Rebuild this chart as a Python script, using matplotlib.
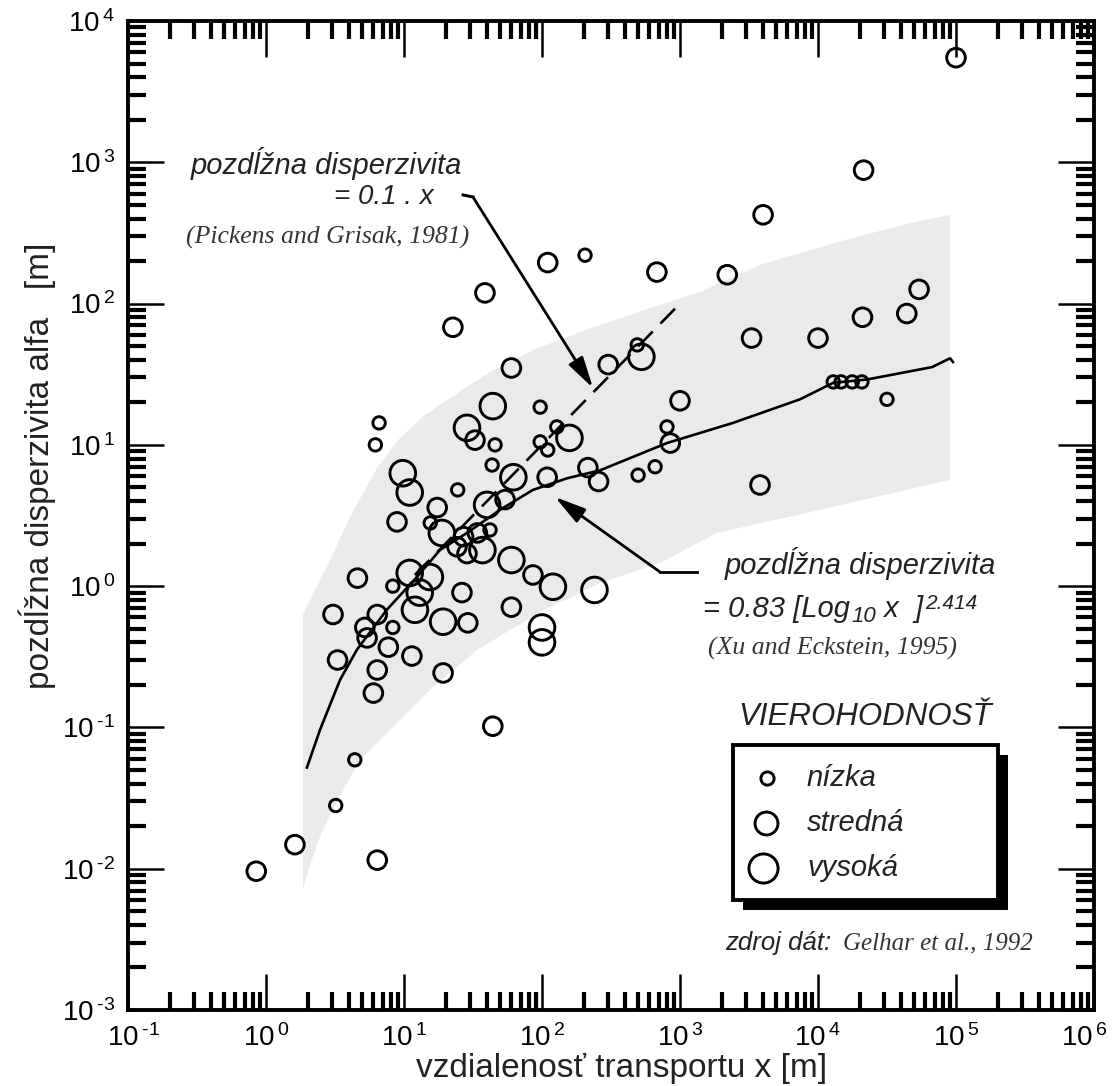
import numpy as np
import matplotlib
matplotlib.use('Agg')
import matplotlib.pyplot as plt
from matplotlib.ticker import LogLocator, FuncFormatter, NullFormatter
from matplotlib.patches import Rectangle
from matplotlib.transforms import ScaledTranslation

plt.rcParams['font.family'] = ['Liberation Sans', 'DejaVu Sans']
plt.rcParams['mathtext.fontset'] = 'custom'
plt.rcParams['mathtext.rm'] = 'Liberation Sans'
plt.rcParams['mathtext.it'] = 'Liberation Sans:italic'
plt.rcParams['mathtext.bf'] = 'Liberation Sans:bold'
plt.rcParams['mathtext.sf'] = 'Liberation Sans'
plt.rcParams['lines.scale_dashes'] = False

# ---------------- data ----------------
# reliability: low (nízka)
low_x = [205, 490, 805, 497, 660, 12900, 14700, 17700, 20800, 31600, 97, 128, 97, 110,
         45.7, 43.5, 6.6, 6.2, 24.5, 15.5, 42, 8.3, 8.3, 4.4, 3.2]
low_y = [220, 51, 13.4, 6.1, 7.0, 27.9, 27.9, 27.9, 27.9, 21, 18.5, 13.4, 10.5, 9.2,
         10, 7.2, 14.3, 10, 4.8, 2.8, 2.5, 1.0, 0.51, 0.059, 0.028]
# reliability: medium (stredná)
med_x = [1e5, 21400, 4000, 110, 680, 2200, 54000, 21000, 44000, 38.6, 22.6, 60, 302,
         3300, 10000, 1000, 850, 3800, 257, 109, 215, 32.7, 17.4, 8.9, 54, 27, 34, 24.2,
         28.6, 86, 4.6, 26.3, 29, 60, 3.06, 5.2, 6.4, 5.4, 7.7, 3.3, 6.4, 6.0, 11.4, 19.2,
         44, 1.62, 0.85, 6.4]
med_y = [5500, 880, 425, 195, 167, 160, 126, 80, 85, 119, 68, 35, 37,
         57, 57, 20.5, 10.3, 5.2, 5.5, 5.9, 6.9, 10.8, 3.6, 2.85, 4.1, 2.24, 2.38, 1.9,
         1.7, 1.2, 1.14, 0.9, 0.55, 0.71, 0.63, 0.51, 0.63, 0.43, 0.37, 0.30, 0.255, 0.175,
         0.32, 0.243, 0.102, 0.0148, 0.0096, 0.0115]
# reliability: high (vysoká)
high_x = [525, 44, 158, 28.6, 62, 9.8, 11, 40, 18.8, 37, 60, 120, 240, 11, 15.4, 13, 12,
          19.2, 100, 100]
high_y = [42, 18.8, 11.2, 13.2, 5.9, 6.3, 4.6, 3.76, 2.38, 1.8, 1.53, 0.99, 0.94, 1.24,
          1.16, 0.9, 0.68, 0.56, 0.51, 0.40]

# Xu & Eckstein curve (traced)
xu_x = [1.98, 2.46, 3.44, 4.56, 7.5, 12.4, 18.2, 28.6, 49.7, 86, 152, 263, 805, 2420,
        7400, 12900, 22600, 67000, 90600, 95000]
xu_y = [0.052, 0.096, 0.217, 0.355, 0.68, 1.16, 1.8, 2.38, 3.47, 4.8, 5.8, 6.6, 10.3,
        14.3, 21, 27.5, 29, 35.5, 41, 38.6]
# Pickens & Grisak line (0.1 x)
pg_x = [12, 1000]
pg_y = [1.2, 100]

# grey envelope
band_upper_x = [1.85, 1.85, 2.26, 2.77, 4.06, 6.37, 9.35, 14.2, 23.4, 38.6, 86, 263, 607,
                1400, 3800, 15700, 50500, 90600]
band_upper_y = [0.0071, 0.625, 0.94, 1.37, 3.09, 6.87, 11.2, 16.3, 22.6, 31.2, 47, 70.6,
                93, 121, 188, 282, 378, 424]
band_lower_x = [90600, 12900, 1850, 716, 263, 97, 33.8, 15.4, 7.5, 4.8, 3.86, 2.91, 2.46,
                2.08]
band_lower_y = [5.65, 3.64, 2.38, 1.46, 1.05, 0.656, 0.354, 0.184, 0.0914, 0.0589, 0.0405,
                0.024, 0.0168, 0.0106]

legend_labels = ['nízka', 'stredná', 'vysoká']

# ---------------- figure ----------------
W, H = 1116, 1086
fig = plt.figure(figsize=(W / 100, H / 100), dpi=100)
L, R, T, B = 128, 1094, 21, 1010
ax = fig.add_axes([L / W, 1 - B / H, (R - L) / W, (B - T) / H])
ax.set_xscale('log')
ax.set_yscale('log')
ax.set_xlim(0.1, 1e6)
ax.set_ylim(1e-3, 1e4)


def af(px, py):
    return ((px - L) / (R - L), (B - py) / (B - T))


TXT = '#222222'

ax.fill(band_upper_x + band_lower_x, band_upper_y + band_lower_y,
        color='#e9eaec', lw=0, zorder=1)

ax.plot(xu_x, xu_y, color='black', lw=1.9, zorder=2)
ax.plot(pg_x, pg_y, color='black', lw=1.9, dashes=(15, 8), zorder=2)

ring = dict(facecolors='none', edgecolors='black', linewidths=2.1, zorder=3)
ax.scatter(low_x, low_y, s=80, **ring)
ax.scatter(med_x, med_y, s=180, **ring)
ax.scatter(high_x, high_y, s=340, **ring)

# ticks
for axis in (ax.xaxis, ax.yaxis):
    axis.set_major_locator(LogLocator(base=10, numticks=20))
    axis.set_minor_locator(LogLocator(base=10, subs=np.arange(2, 10), numticks=20))
    axis.set_minor_formatter(NullFormatter())
    axis.set_major_formatter(FuncFormatter(
        lambda v, p: r'$10^{\:\text{%d}}$' % int(round(np.log10(v)))))
ax.tick_params(which='major', direction='in', length=26, width=1.8, top=True,
               right=True, labelsize=20, colors='black')
ax.tick_params(axis='x', which='major', pad=10)
ax.tick_params(axis='y', which='major', pad=9)
ax.tick_params(which='minor', direction='in', length=13, width=3.0, top=True, right=True)
for sp in ax.spines.values():
    sp.set_linewidth(2.8)

# axis labels
fig.text(622 / W, 1 - 1068 / H, 'vzdialenosť transportu x [m]', ha='center',
         va='center', fontsize=24, color=TXT)
fig.text(37 / W, 1 - 466 / H, 'pozdĺžna disperzivita alfa   [m]', ha='center',
         va='center', rotation=90, fontsize=24, color=TXT)

# Pickens annotation
ax.text(*af(191, 163), 'pozdĺžna disperzivita', transform=ax.transAxes, ha='left',
        va='center', fontsize=21, style='italic', color=TXT)
ax.text(*af(334, 197), '= 0.1 . x', transform=ax.transAxes, ha='left',
        va='center', fontsize=20, style='italic', color=TXT)
ax.text(*af(186, 237), '(Pickens and Grisak, 1981)', transform=ax.transAxes, ha='left',
        va='center', fontsize=18.5, style='italic', family='Liberation Serif',
        color='#333333')
ax.plot([26.8, 31.6], [587, 568], color='black', lw=2.2, zorder=4)
ax.annotate('', xy=(234, 25.3), xytext=(31.6, 568),
            arrowprops=dict(arrowstyle='-|>,head_length=1.9,head_width=0.5',
                            mutation_scale=10, color='black', lw=2.0,
                            shrinkA=0, shrinkB=0), zorder=4)

# Xu annotation
ax.text(*af(725, 563), 'pozdĺžna disperzivita', transform=ax.transAxes, ha='left',
        va='center', fontsize=21, style='italic', color=TXT)
t1 = ax.text(*af(703, 617), '= 0.83 [Log', transform=ax.transAxes, ha='left',
             va='baseline', fontsize=21, style='italic', color=TXT)
t2 = ax.annotate('10', xy=(1, 0), xycoords=t1, xytext=(1, -3),
                 textcoords='offset points', ha='left', va='bottom', fontsize=16,
                 style='italic', color=TXT)
t3 = ax.annotate(' x  ]', xy=(1, 0), xycoords=(t2, t1), xytext=(0, 0),
                 textcoords='offset points', ha='left', va='bottom', fontsize=21,
                 style='italic', color=TXT)
ax.annotate('2.414', xy=(1, 1), xycoords=t3, xytext=(1, 1),
            textcoords='offset points', ha='left', va='top', fontsize=15,
            style='italic', color=TXT)
ax.text(*af(708, 648), '(Xu and Eckstein, 1995)', transform=ax.transAxes, ha='left',
        va='center', fontsize=18.5, style='italic', family='Liberation Serif',
        color='#333333')
ax.plot([1330, 716], [1.26, 1.26], color='black', lw=2.0, zorder=4)
ax.annotate('', xy=(124, 4.28), xytext=(716, 1.26),
            arrowprops=dict(arrowstyle='-|>,head_length=1.9,head_width=0.5',
                            mutation_scale=10, color='black', lw=2.0,
                            shrinkA=0, shrinkB=0), zorder=4)

# legend
ax.text(*af(738, 717), 'VIEROHODNOSŤ', transform=ax.transAxes, ha='left', va='center',
        fontsize=22.5, style='italic', color=TXT)
x0, y1 = af(733, 745)
x1, y0 = af(998, 900)
dx, dy = 10 / (R - L), 10 / (B - T)
ax.add_patch(Rectangle((x0 + dx, y0 - dy), x1 - x0, y1 - y0, transform=ax.transAxes,
                       facecolor='black', edgecolor='black', lw=0, zorder=5))
ax.add_patch(Rectangle((x0, y0), x1 - x0, y1 - y0, transform=ax.transAxes,
                       facecolor='white', edgecolor='black', lw=2.8, zorder=6))
for (mx, my), ms, lab in zip([(767, 778), (766, 823), (763, 868)], [9.5, 16.5, 21],
                             legend_labels):
    ax.plot(*af(mx, my), 'o', ms=ms, mfc='none', mec='black', mew=2.1,
            transform=ax.transAxes, zorder=7)
    ax.text(*af(807, my), lab, transform=ax.transAxes, ha='left', va='center',
            fontsize=21, style='italic', color=TXT, zorder=7)

ax.text(*af(725, 943), 'zdroj dát:', transform=ax.transAxes, ha='left', va='center',
        fontsize=18.5, style='italic', color=TXT)
ax.text(*af(843, 943), 'Gelhar et al., 1992', transform=ax.transAxes, ha='left',
        va='center', fontsize=18, style='italic', family='Liberation Serif',
        color='#333333')

# keep the outermost x tick labels inside the picture
fig.canvas.draw()
xticks = ax.xaxis.get_major_ticks()
for tk in xticks:
    if np.isclose(tk.get_loc(), 1e6):
        tk.label1.set_transform(tk.label1.get_transform() +
                                ScaledTranslation(-7 / 72, 0, fig.dpi_scale_trans))
    if np.isclose(tk.get_loc(), 0.1):
        tk.label1.set_transform(tk.label1.get_transform() +
                                ScaledTranslation(4 / 72, 0, fig.dpi_scale_trans))

fig.savefig('out.png', dpi=100)
